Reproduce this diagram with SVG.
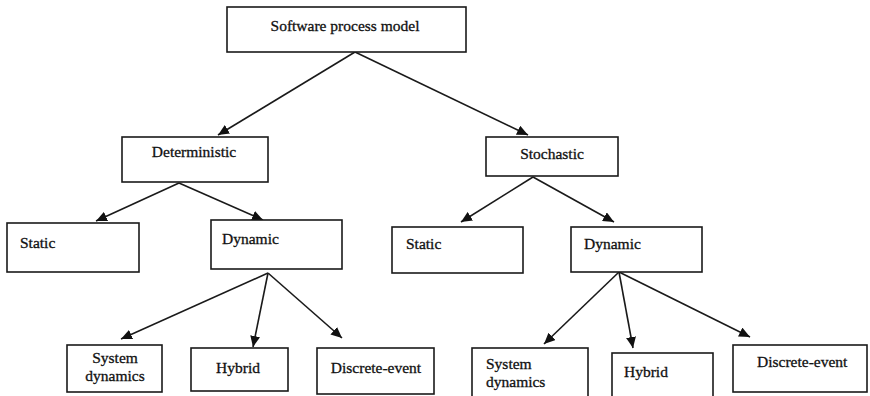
<svg xmlns="http://www.w3.org/2000/svg" width="870" height="396" viewBox="0 0 870 396">
  <style>
    .box { fill: #fff; stroke: #1a1a1a; stroke-width: 1.6; }
    .lbl { font-family: "Liberation Serif", "Times New Roman", serif; font-size: 15.5px; fill: #111; stroke: #111; stroke-width: 0.3; }
    .mid { text-anchor: middle; }
    .edge { stroke: #1a1a1a; stroke-width: 1.6; fill: none; marker-end: url(#head); }
  </style>
  <defs>
    <marker id="head" markerUnits="userSpaceOnUse" markerWidth="12" markerHeight="10" refX="11" refY="5" orient="auto">
      <path d="M0,0 L11,5 L0,10 Z" fill="#111"/>
    </marker>
  </defs>
  <rect width="870" height="396" fill="#fff"/>

  <!-- connectors -->
  <g id="connectors">
    <line class="edge" x1="355" y1="52" x2="218" y2="135"/>
    <line class="edge" x1="355" y1="52" x2="528" y2="135"/>
    <line class="edge" x1="179" y1="183" x2="96" y2="221"/>
    <line class="edge" x1="179" y1="183" x2="263" y2="220"/>
    <line class="edge" x1="533" y1="177" x2="461" y2="222"/>
    <line class="edge" x1="533" y1="177" x2="614" y2="222"/>
    <line class="edge" x1="268" y1="273" x2="121" y2="339"/>
    <line class="edge" x1="268" y1="273" x2="253" y2="347"/>
    <line class="edge" x1="268" y1="273" x2="342" y2="338"/>
    <line class="edge" x1="619" y1="272" x2="544" y2="344"/>
    <line class="edge" x1="619" y1="272" x2="633" y2="348"/>
    <line class="edge" x1="619" y1="272" x2="750" y2="337"/>
  </g>

  <!-- root -->
  <g id="software-process-model">
    <rect class="box" x="227" y="7" width="239" height="45"/>
    <text class="lbl mid" x="345" y="31">Software process model</text>
  </g>

  <!-- second level -->
  <g id="deterministic">
    <rect class="box" x="122" y="137" width="146" height="45"/>
    <text class="lbl mid" x="194" y="157">Deterministic</text>
  </g>
  <g id="stochastic">
    <rect class="box" x="486" y="137" width="132" height="39"/>
    <text class="lbl mid" x="552" y="159">Stochastic</text>
  </g>

  <!-- third level -->
  <g id="det-static">
    <rect class="box" x="7" y="223" width="132" height="49"/>
    <text class="lbl" x="20" y="248">Static</text>
  </g>
  <g id="det-dynamic">
    <rect class="box" x="211" y="220" width="131" height="49"/>
    <text class="lbl" x="222" y="244">Dynamic</text>
  </g>
  <g id="sto-static">
    <rect class="box" x="392" y="227" width="131" height="46"/>
    <text class="lbl" x="406" y="249">Static</text>
  </g>
  <g id="sto-dynamic">
    <rect class="box" x="571" y="227" width="131" height="45"/>
    <text class="lbl" x="584" y="249">Dynamic</text>
  </g>

  <!-- leaves under deterministic / dynamic -->
  <g id="det-system-dynamics">
    <rect class="box" x="67" y="345" width="95" height="47"/>
    <text class="lbl mid" x="115" y="363">System</text>
    <text class="lbl mid" x="115" y="381">dynamics</text>
  </g>
  <g id="det-hybrid">
    <rect class="box" x="191" y="348" width="97" height="43"/>
    <text class="lbl mid" x="238" y="373">Hybrid</text>
  </g>
  <g id="det-discrete-event">
    <rect class="box" x="317" y="348" width="117" height="46"/>
    <text class="lbl mid" x="376" y="373">Discrete-event</text>
  </g>

  <!-- leaves under stochastic / dynamic -->
  <g id="sto-system-dynamics">
    <rect class="box" x="472" y="348" width="116" height="50"/>
    <text class="lbl" x="486" y="369">System</text>
    <text class="lbl" x="486" y="387">dynamics</text>
  </g>
  <g id="sto-hybrid">
    <rect class="box" x="612" y="353" width="101" height="45"/>
    <text class="lbl" x="624" y="377">Hybrid</text>
  </g>
  <g id="sto-discrete-event">
    <rect class="box" x="733" y="345" width="134" height="47"/>
    <text class="lbl" x="757" y="367">Discrete-event</text>
  </g>
</svg>
